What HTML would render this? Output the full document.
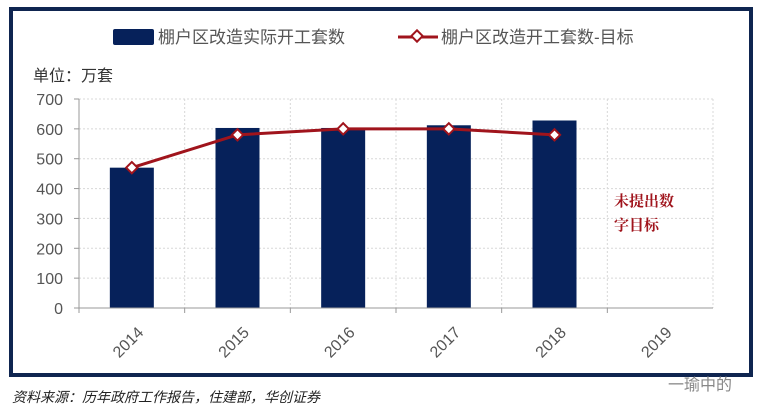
<!DOCTYPE html>
<html><head><meta charset="utf-8"><style>
body{margin:0;background:#fff;width:763px;height:414px;overflow:hidden;font-family:"Liberation Sans","Noto Sans CJK SC",sans-serif}
</style></head><body>
<svg width="763" height="414" xmlns="http://www.w3.org/2000/svg">
<rect x="11" y="9" width="740" height="366" fill="#fff" stroke="#0f2550" stroke-width="4"/>
<g>
<rect x="113" y="29" width="41" height="16" rx="2" fill="#06215a"/>
<text x="158" y="43" font-size="17" fill="#555">棚户区改造实际开工套数</text>
<line x1="398" y1="37" x2="438" y2="37" stroke="#a0141c" stroke-width="3"/>
<rect x="413" y="32" width="8" height="8" fill="#fff" stroke="#a0141c" stroke-width="2" transform="rotate(45 417 36)"/>
<text x="441" y="43" font-size="17" fill="#555">棚户区改造开工套数-目标</text>
</g>
<text x="33" y="81" font-size="16" fill="#333">单位：万套</text>
<g id="grid"></g><g id="bars"></g><g id="line"></g><g id="axes"></g>
<text x="614" y="206" font-size="15" font-weight="bold" fill="#a0141c" font-family="'Noto Serif CJK SC',serif">未提出数</text>
<text x="614" y="230" font-size="15" font-weight="bold" fill="#a0141c" font-family="'Noto Serif CJK SC',serif">字目标</text>
<text x="12" y="402" font-size="14" font-style="italic" fill="#222">资料来源：历年政府工作报告，住建部，华创证券</text>
<text x="668" y="390" font-size="16" fill="#888">一瑜中的</text>
</svg>
<script>
const categories=["2014","2015","2016","2017","2018","2019"];
const actual=[470,603,603,612,628,null];
const target=[470,580,600,600,580,null];
const yTicks=[0,100,200,300,400,500,600,700];
const NS="http://www.w3.org/2000/svg";
const L=79,R=713,T=99,B=308,yMax=700;
const cw=(R-L)/categories.length;
const xC=i=>L+cw*(i+0.5);
const yS=v=>B-(v/yMax)*(B-T);
function mk(tag,a,p){const e=document.createElementNS(NS,tag);for(const k in a)e.setAttribute(k,a[k]);p.appendChild(e);return e;}
const grid=document.getElementById('grid'),bars=document.getElementById('bars'),line=document.getElementById('line'),axes=document.getElementById('axes');
yTicks.forEach(t=>{
 if(t>0){const g=mk('line',{x1:L,x2:R,y1:yS(t),y2:yS(t),stroke:'#d8d8d8','stroke-dasharray':'2,2'},grid);
 
 }
 const tx=mk('text',{x:L-16,y:yS(t)+6,'text-anchor':'end','font-size':'16',fill:'#555'},axes);tx.textContent=t;
 
 
 const tk=mk('line',{x1:L-5,x2:L,y1:yS(t),y2:yS(t),stroke:'#999'},axes);
 
 
});
categories.forEach((c,i)=>{
 const gx=L+cw*(i+1);
 const g=mk('line',{x1:gx,x2:gx,y1:T,y2:B,stroke:'#d8d8d8','stroke-dasharray':'2,2'},grid);
 
 
 const tk=mk('line',{x1:L+cw*i,x2:L+cw*i,y1:B,y2:B+5,stroke:'#999'},axes);
 
 
 const x=xC(i),y=B+38;
 const tx=mk('text',{x:x,y:y,'text-anchor':'middle','font-size':'16',fill:'#555',transform:`rotate(-45 ${x} ${y})`},axes);tx.textContent=c;
 
 
 if(actual[i]!=null){const b=mk('rect',{x:x-22,y:yS(actual[i]),width:44,height:B-yS(actual[i]),fill:'#06215a'},bars);
 
 }
});
const ya=mk('line',{x1:L,x2:L,y1:T,y2:B,stroke:'#999'},axes);


const xa=mk('line',{x1:L,x2:R,y1:B,y2:B,stroke:'#999'},axes);


const pts=target.map((v,i)=>v==null?null:[xC(i),yS(v)]).filter(p=>p);
const pl=mk('polyline',{points:pts.map(p=>p.join(',')).join(' '),fill:'none',stroke:'#a0141c','stroke-width':3},line);


pts.forEach(p=>{const m=mk('rect',{x:p[0]-4,y:p[1]-4,width:8,height:8,fill:'#fff',stroke:'#a0141c','stroke-width':2,transform:`rotate(45 ${p[0]} ${p[1]})`},line);
 
 });
</script>
</body></html>
